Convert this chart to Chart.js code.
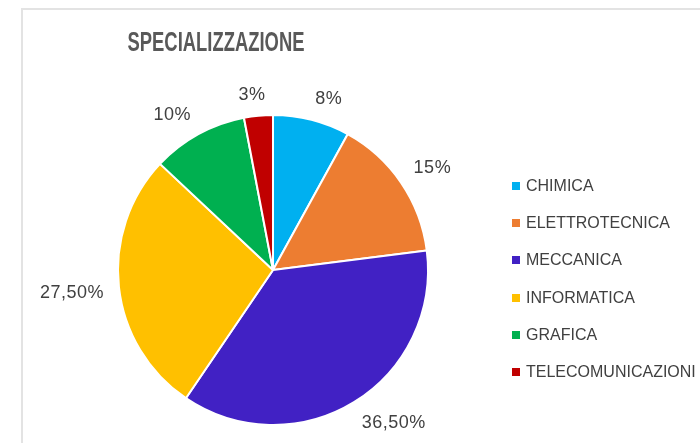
<!DOCTYPE html>
<html>
<head>
<meta charset="utf-8">
<script src="https://cdn.jsdelivr.net/npm/chart.js@4"></script>
<style>
  html, body { margin: 0; padding: 0; background: #fff; }
  #wrap { position: relative; width: 700px; height: 443px; overflow: hidden; }
  #frame { position: absolute; left: 21px; top: 8px; width: 700px; height: 460px;
           border-left: 2px solid #e3e3e3; border-top: 2px solid #e3e3e3; box-sizing: border-box; }
  canvas { position: absolute; left: 0; top: 0; }
  #legend { position: absolute; left: 512px; top: 0; font-family: "Liberation Sans", Arial, sans-serif;
            font-size: 16px; color: #404040; }
  .item { position: absolute; left: 0; white-space: nowrap; display: flex; align-items: center; height: 20px; }
  .sw { width: 8px; height: 8px; margin-right: 6px; }
</style>
</head>
<body>
<div id="wrap">
  <div id="frame"></div>
  <canvas id="c" width="700" height="443"></canvas>
  <div id="legend"></div>
</div>
<script>
const titleText = 'SPECIALIZZAZIONE';
const categories = ['CHIMICA', 'ELETTROTECNICA', 'MECCANICA', 'INFORMATICA', 'GRAFICA', 'TELECOMUNICAZIONI'];
const shares = [8, 15, 36.5, 27.5, 10, 3];
const shareLabels = ['8%', '15%', '36,50%', '27,50%', '10%', '3%'];
const sliceColors = ['#00B0F0', '#ED7D31', '#4121C4', '#FFC000', '#00B050', '#C00000'];

const legendEl = document.getElementById('legend');
categories.forEach((name, i) => {
  const row = document.createElement('div');
  row.className = 'item';
  row.style.top = (176 + i * 37.2) + 'px';
  const sw = document.createElement('span');
  sw.className = 'sw';
  sw.style.background = sliceColors[i];
  const tx = document.createElement('span');
  tx.textContent = name;
  row.appendChild(sw); row.appendChild(tx);
  legendEl.appendChild(row);
});

const titlePlugin = {
  id: 'titlePlugin',
  afterDraw(chart) {
    const ctx = chart.ctx;
    ctx.save();
    ctx.font = 'bold 27px "Liberation Sans Narrow", "Liberation Sans", Arial, sans-serif';
    ctx.fillStyle = '#595959';
    ctx.textAlign = 'center';
    ctx.textBaseline = 'middle';
    const w = ctx.measureText(titleText).width;
    const sx = Math.min(1, 177 / w);
    ctx.translate(216, 44);
    ctx.scale(sx, 1);
    ctx.fillText(titleText, 0, 0);
    ctx.restore();
  }
};

const labelPlugin = {
  id: 'outsideLabels',
  afterDatasetsDraw(chart) {
    const ctx = chart.ctx;
    const meta = chart.getDatasetMeta(0);
    const H = chart.height;
    ctx.save();
    ctx.font = '18px "Liberation Sans", Arial, sans-serif';
    if ('letterSpacing' in ctx) ctx.letterSpacing = '0.5px';
    ctx.fillStyle = '#404040';
    ctx.textAlign = 'center';
    ctx.textBaseline = 'middle';
    const clamp = (t) => Math.max(-1, Math.min(1, t * 4));
    meta.data.forEach((arc, i) => {
      const p = arc.getProps(['x', 'y', 'startAngle', 'endAngle', 'outerRadius'], true);
      const text = shareLabels[i];
      const w = ctx.measureText(text).width;
      const h = 14;
      let mid = (p.startAngle + p.endAngle) / 2;
      let cx, cy;
      for (let k = 0; k < 200; k++) {
        const ux = Math.cos(mid), uy = Math.sin(mid);
        const d = p.outerRadius + 15;
        cx = p.x + d * ux + clamp(ux) * w / 2;
        cy = p.y + d * uy + clamp(uy) * h / 2;
        if (cy + h / 2 <= H - 4) break;
        mid += (ux >= 0 ? -0.01 : 0.01);
      }
      ctx.fillText(text, cx, cy + 1);
    });
    ctx.restore();
  }
};

new Chart(document.getElementById('c'), {
  type: 'pie',
  data: {
    labels: categories,
    datasets: [{
      data: shares,
      backgroundColor: sliceColors,
      borderColor: '#ffffff',
      borderWidth: 2
    }]
  },
  options: {
    responsive: false,
    animation: false,
    devicePixelRatio: 1,
    layout: { padding: { left: 117, right: 271, top: 114, bottom: 17 } },
    plugins: {
      legend: { display: false },
      title: { display: false },
      tooltip: { enabled: false }
    }
  },
  plugins: [titlePlugin, labelPlugin]
});
</script>
</body>
</html>
